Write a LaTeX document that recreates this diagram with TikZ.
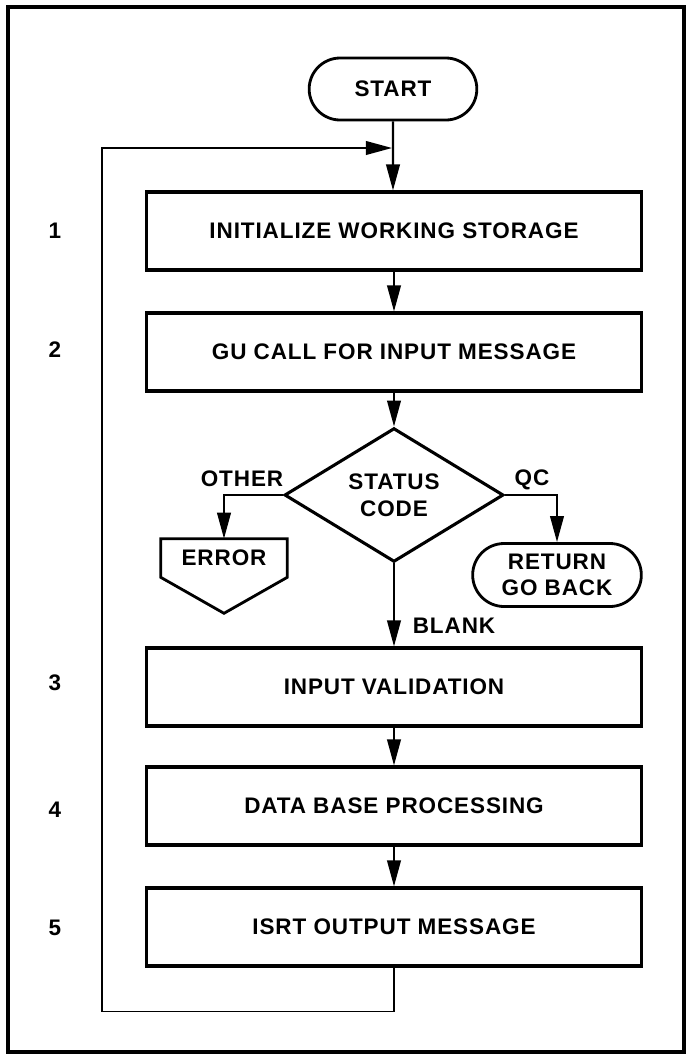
\documentclass[tikz,border=0pt]{standalone}
\usepackage{fontspec}
\setmainfont[LetterSpace=4]{Liberation Sans}
\usepackage{tikz}
\usetikzlibrary{shapes.geometric,shapes.misc,arrows.meta,calc}
\tikzset{
  chartfont/.style={font=\fontsize{16}{19}\selectfont\bfseries},
  procbox/.style={draw, line width=2.2pt, chartfont, minimum width=12.35cm, minimum height=1.95cm},
  termbox/.style={draw, rounded rectangle, line width=2pt, chartfont, align=center, minimum height=1.55cm},
  decision/.style={draw, diamond, line width=2.2pt, chartfont, align=center, inner sep=0pt,
    minimum width=5.475cm, minimum height=3.125cm},
  errbox/.style={chartfont, minimum width=3.15cm, minimum height=0.95cm},
  steplabel/.style={chartfont},
  flow/.style={line width=1.5pt, -{Triangle[length=6.5mm, width=3.4mm]}},
  loopline/.style={line width=1.3pt}
}
\begin{document}
\begin{tikzpicture}[x=0.025cm, y=-0.025cm]
  \useasboundingbox (0,0) rectangle (687,1055);
  \draw[line width=2.2pt] (8,7) rectangle (684,1052);

  % terminals and steps
  \node[termbox, minimum width=4.425cm] (start) at (393,89) {START};
  \node[procbox] (init) at (394,231) {INITIALIZE WORKING STORAGE};
  \node[procbox] (gucall) at (394,352) {GU CALL FOR INPUT MESSAGE};
  \node[decision] (status) at (394,495) {STATUS\\CODE};
  \node[errbox] (error) at (224,558) {ERROR};
  \node[termbox, minimum width=4.45cm, minimum height=1.575cm] (goback) at (557,575) {RETURN\\GO BACK};
  \node[procbox] (valid) at (394,687) {INPUT VALIDATION};
  \node[procbox] (dbproc) at (394,806) {DATA BASE PROCESSING};
  \node[procbox] (isrt) at (394,927) {ISRT OUTPUT MESSAGE};

  % off-page outline of the error node
  \draw[line width=2pt, line join=miter]
    (error.south west) -- (error.north west) -- (error.north east)
    -- (error.south east) -- ($(error.south)+(0,36)$) -- cycle;

  % step numbers
  \foreach \n/\y in {1/231, 2/350, 3/683, 4/810, 5/928}
    \node[steplabel] (num\n) at (55,\y) {\n};

  % branch labels
  \node[steplabel] (other) at (242,479) {OTHER};
  \node[steplabel] (qc) at (532,480) {QC};
  \node[steplabel] (blank) at (454,626) {BLANK};

  % connectors
  \coordinate (loopin) at (392,148);
  \draw[flow] (start) -- (start |- init.north);
  \draw[flow] (init) -- (gucall);
  \draw[flow] (gucall) -- (status);
  \draw[flow] (status.west) -| (error.north);
  \draw[flow] (status.east) -| (goback.north);
  \draw[flow] (status) -- (valid);
  \draw[flow] (valid) -- (dbproc);
  \draw[flow] (dbproc) -- (isrt);
  \draw[loopline, -{Triangle[length=6.5mm, width=3.4mm]}]
    (isrt.south) -- ++(0,44) -| (102,148) -- (loopin);
\end{tikzpicture}
\end{document}
